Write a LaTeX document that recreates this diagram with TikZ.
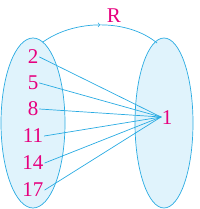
\documentclass[tikz,border=0pt]{standalone}
\usepackage{fontspec}
\setmainfont{Liberation Serif}
\usetikzlibrary{decorations.markings}
\definecolor{setblue}{RGB}{41,171,226}
\definecolor{setfill}{RGB}{224,243,252}
\definecolor{numpink}{RGB}{230,0,126}

\begin{document}
\begin{tikzpicture}[line cap=round,line join=round,x=1pt,y=1pt,
  num/.style={text=numpink,font=\fontsize{21}{22}\selectfont,inner sep=1pt},
  map/.style={setblue,line width=0.7pt}]
			\useasboundingbox (0,0) rectangle (200,209);
			% the two sets
			\filldraw[setblue,fill=setfill,line width=0.7pt] (33,86) ellipse (32 and 85);
			\filldraw[setblue,fill=setfill,line width=0.7pt] (164,86) ellipse (29 and 85);
			% relation arc
			\draw[map,decoration={markings,mark=at position 0.5 with {\arrow{>}}},postaction={decorate}]
				(43,167) .. controls (75,190) and (128,190) .. (157,166);
			\node[num] (R) at (114,193) {R};
			% elements
			\node[num] (n2) at (33,152) {2};
			\node[num] (n5) at (33,126) {5};
			\node[num] (n8) at (33,100) {8};
			\node[num] (n11) at (33,73) {11};
			\node[num] (n14) at (33,46) {14};
			\node[num] (n17) at (33,19) {17};
			\node[num] (m1) at (167,91) {1};
			\coordinate (c) at (161,92);
			\foreach \a in {n2,n5,n8,n11,n14,n17}
				\draw[map] (\a.east) -- (c);
\end{tikzpicture}
\end{document}
